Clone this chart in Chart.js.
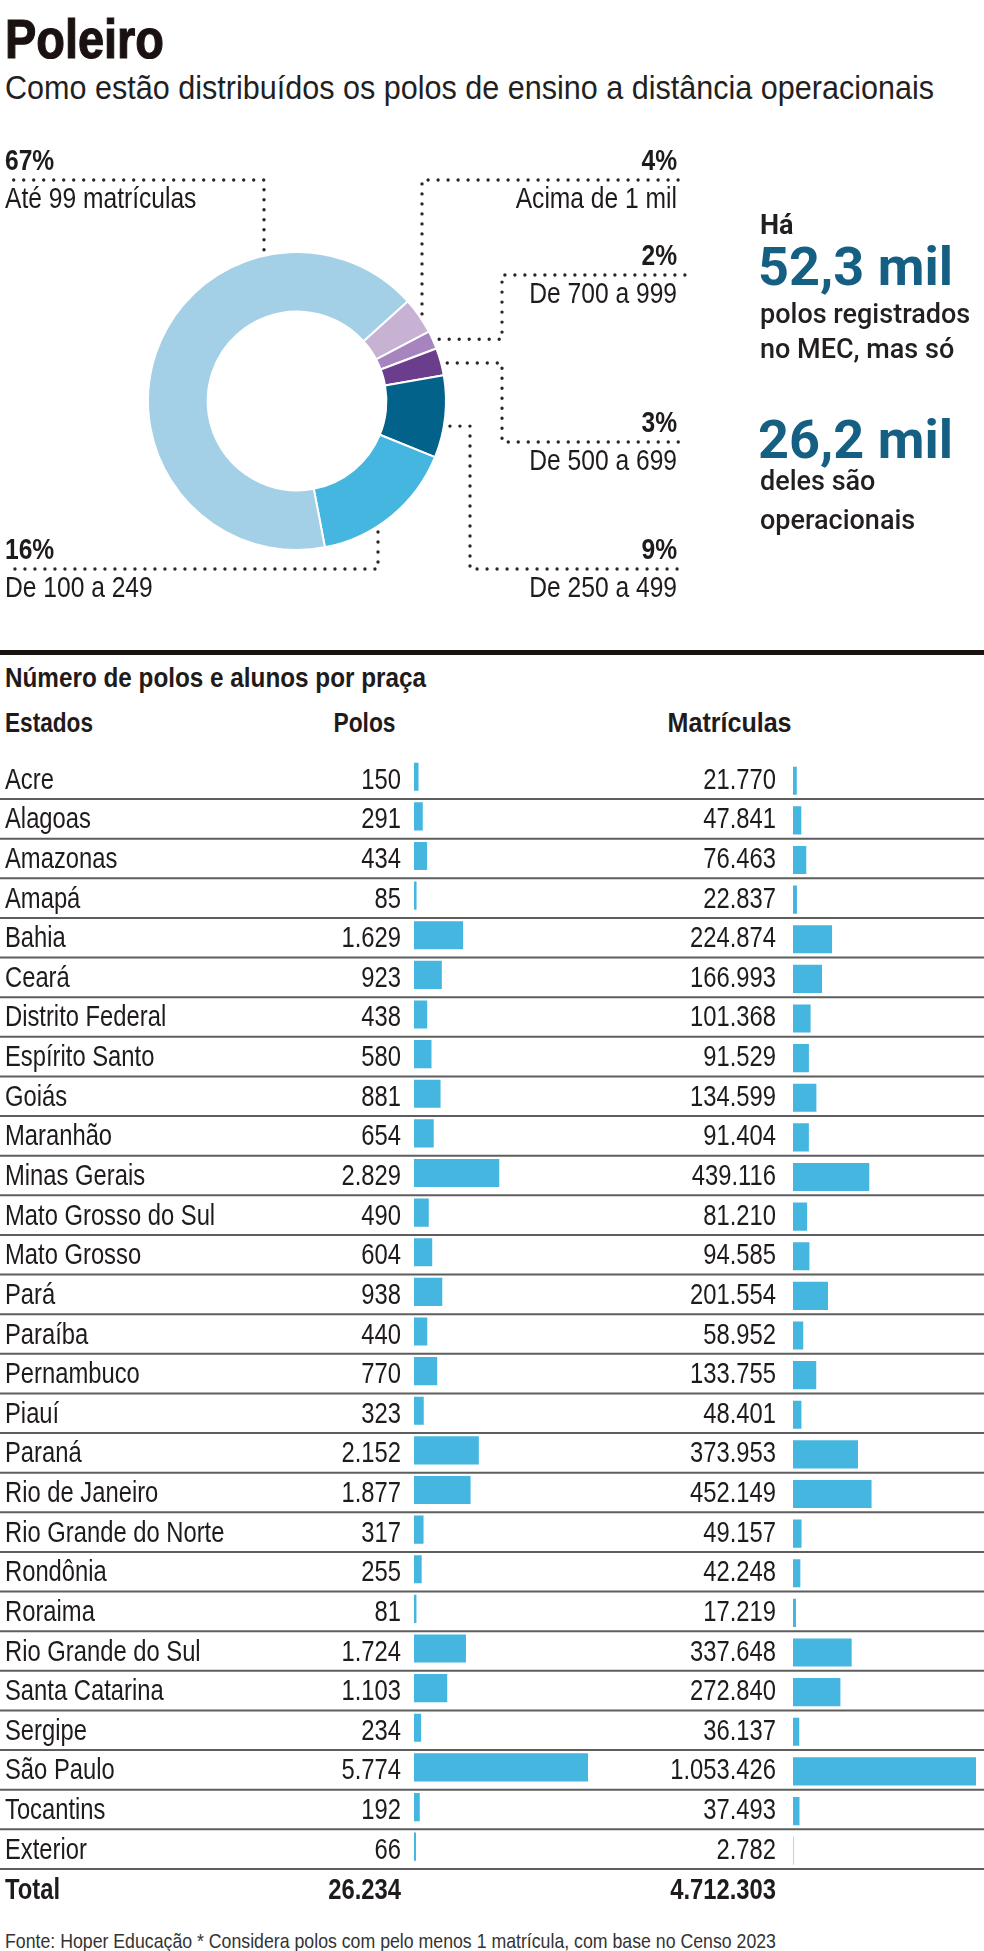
<!DOCTYPE html>
<html lang="pt-BR">
<head>
<meta charset="utf-8">
<title>Poleiro</title>
<script src="https://cdn.jsdelivr.net/npm/chart.js@4.4.1/dist/chart.umd.min.js"></script>
<style>
  html, body { margin: 0; padding: 0; background: #fff; }
  body {
    width: 984px; height: 1951px; position: relative; overflow: hidden;
    color: #1f1b1b;
    font-family: "Liberation Sans", Arial, sans-serif;
  }
  .t { position: absolute; white-space: nowrap; line-height: 1; transform-origin: 0 0; }
  .t.r { transform-origin: 100% 0; }
  .box { position: absolute; left: 0; width: 984px; }
  #title { left: 5px; top: 11px; font-size: 56px; font-weight: 700; color: #1a1111; -webkit-text-stroke: 1.2px #1a1111; }
  #subtitle { left: 5px; top: 71px; font-size: 33px; color: #231f1f; }
  .side { font-family: Roboto, "Liberation Sans", sans-serif; left: 760px; color: #231f20; font-weight: 500; font-size: 27px; }
  .big { font-family: Roboto, "Liberation Sans", sans-serif; left: 758px; color: #155f83; font-weight: 700; font-size: 54px; }
  #rule { position: absolute; left: 0; top: 650px; width: 984px; height: 5px; background: #1a1111; }
  #sec { left: 5px; top: 665px; font-size: 27px; font-weight: 700; }
  .head { top: 710px; font-size: 27px; font-weight: 700; }
  #foot { left: 5px; top: 1930px; font-size: 21px; color: #333; }
</style>
</head>
<body>

<div class="box" style="top:110px;height:515px"><canvas id="rosca"></canvas></div>
<div class="box" style="top:745px;height:1175px"><canvas id="tabela"></canvas></div>

<div class="t fit" id="title" data-w="159">Poleiro</div>
<div class="t fit" id="subtitle" data-w="929">Como estão distribuídos os polos de ensino a distância operacionais</div>

<div class="t side" style="top:212px;font-weight:700">Há</div>
<div class="t big" style="top:240px">52,3 mil</div>
<div class="t side" style="top:301px">polos registrados</div>
<div class="t side" style="top:336px">no MEC, mas só</div>
<div class="t big" style="top:413px">26,2 mil</div>
<div class="t side" style="top:468px">deles são</div>
<div class="t side" style="top:507px">operacionais</div>

<div id="rule"></div>
<div class="t fit" id="sec" data-w="421">Número de polos e alunos por praça</div>
<div class="t fit head" style="left:5px" data-w="88">Estados</div>
<div class="t fit r head" style="right:588px" data-w="62">Polos</div>
<div class="t fit r head" style="right:192px" data-w="124">Matrículas</div>
<div class="t fit" id="foot" data-w="771">Fonte: Hoper Educação * Considera polos com pelo menos 1 matrícula, com base no Censo 2023</div>

<script>
// DONUT - polos por faixa de matrículas (%)
const faixas = ["Acima de 1 mil", "De 700 a 999", "De 500 a 699", "De 250 a 499", "De 100 a 249", "Até 99 matrículas"];
const faixasPct = [4, 2, 3, 9, 16, 67];
const faixasCores = ['#c7b2d4', '#a684bf', '#6a3e8d', '#02628a', '#45b6e0', '#a3d0e6'];

// TABLE - polos e matrículas por estado
const estados = ["Acre", "Alagoas", "Amazonas", "Amapá", "Bahia", "Ceará", "Distrito Federal",
  "Espírito Santo", "Goiás", "Maranhão", "Minas Gerais", "Mato Grosso do Sul", "Mato Grosso",
  "Pará", "Paraíba", "Pernambuco", "Piauí", "Paraná", "Rio de Janeiro", "Rio Grande do Norte",
  "Rondônia", "Roraima", "Rio Grande do Sul", "Santa Catarina", "Sergipe", "São Paulo",
  "Tocantins", "Exterior"];
const polos = [150, 291, 434, 85, 1629, 923, 438, 580, 881, 654, 2829, 490, 604, 938, 440, 770,
  323, 2152, 1877, 317, 255, 81, 1724, 1103, 234, 5774, 192, 66];
const matriculas = [21770, 47841, 76463, 22837, 224874, 166993, 101368, 91529, 134599, 91404,
  439116, 81210, 94585, 201554, 58952, 133755, 48401, 373953, 452149, 49157, 42248, 17219,
  337648, 272840, 36137, 1053426, 37493, 2782];
const totalPolos = 26234;
const totalMatriculas = 4712303;

// squeeze html titles to the width they have in print (condensed face)
document.querySelectorAll('.fit').forEach(el => {
  const s = +el.dataset.w / el.getBoundingClientRect().width;
  el.style.transform = 'scaleX(' + s.toFixed(4) + ')';
});

const SANS = '"Liberation Sans", Arial, sans-serif';
const SX = 0.82;            // condensed look for canvas text
const INK = '#1f1b1b';
const BAR = '#45b6e0';

function fmt(n) {
  return String(n).replace(/\B(?=(\d{3})+(?!\d))/g, '.');
}

function narrow(ctx, txt, x, y, align) {
  ctx.save();
  ctx.translate(x, y);
  ctx.scale(SX, 1);
  ctx.textAlign = align;
  ctx.fillText(txt, 0, 0);
  ctx.restore();
}

// leader lines of the donut (page coords, canvas starts at y=110)
const TOP_Y = 110;
const leaders = [
  { i: 5, side: 'left',  lineY: 180, vx: 264, to: 'top' },
  { i: 0, side: 'right', lineY: 180, vx: 422, to: 'top' },
  { i: 1, side: 'right', lineY: 275, vx: 502, to: 'elbow', at: 0.6 },
  { i: 2, side: 'right', lineY: 442, vx: 502, to: 'elbow', at: 0.6 },
  { i: 3, side: 'right', lineY: 569, vx: 470, to: 'elbow', at: 0.6 },
  { i: 4, side: 'left',  lineY: 569, vx: 378, to: 'bottom' },
];

const leaderPlugin = {
  id: 'leaders',
  afterDraw(chart) {
    const ctx = chart.ctx;
    const arcs = chart.getDatasetMeta(0).data;
    ctx.save();
    leaders.forEach(l => {
      const a = arcs[l.i];
      const R = a.outerRadius;
      const ly = l.lineY - TOP_Y;
      const pts = [];
      if (l.to === 'elbow') {
        const ang = a.startAngle + (a.endAngle - a.startAngle) * l.at;
        const ax = a.x + Math.cos(ang) * (R + 6);
        const ay = a.y + Math.sin(ang) * (R + 6);
        pts.push([ax, ay], [l.vx, ay], [l.vx, ly]);
      } else {
        const dx = l.vx - a.x;
        const dy = Math.sqrt(Math.max(R * R - dx * dx, 0)) + 6;
        pts.push([l.vx, l.to === 'top' ? a.y - dy : a.y + dy], [l.vx, ly]);
      }
      pts.push([l.side === 'left' ? 6 : 685, ly]);
      ctx.beginPath();
      ctx.setLineDash([0, 10]);
      ctx.lineCap = 'round';
      ctx.lineWidth = 3.4;
      ctx.strokeStyle = '#2a2626';
      pts.forEach((p, k) => k ? ctx.lineTo(p[0], p[1]) : ctx.moveTo(p[0], p[1]));
      ctx.stroke();

      const tx = l.side === 'left' ? 5 : 677;
      const al = l.side === 'left' ? 'left' : 'right';
      ctx.textBaseline = 'alphabetic';
      ctx.fillStyle = INK;
      ctx.font = 'bold 30px ' + SANS;
      narrow(ctx, faixasPct[l.i] + '%', tx, ly - 10, al);
      ctx.font = '30px ' + SANS;
      narrow(ctx, faixas[l.i], tx, ly + 28, al);
    });
    ctx.restore();
  }
};

new Chart(document.getElementById('rosca'), {
  type: 'doughnut',
  data: {
    labels: faixas,
    datasets: [{
      data: faixasPct,
      backgroundColor: faixasCores,
      borderColor: '#ffffff',
      borderWidth: 2,
    }]
  },
  options: {
    responsive: true,
    maintainAspectRatio: false,
    animation: false,
    rotation: 48,
    cutout: '60%',
    layout: { padding: { left: 147, top: 141, right: 537, bottom: 74 } },
    plugins: { legend: { display: false }, tooltip: { enabled: false } }
  },
  plugins: [leaderPlugin]
});

// bar mapping: where 0 and the biggest value fall on the 984px row
const W = 984;
const polosZero = 414, polosEnd = 588;
const matrZero = 793, matrEnd = 976;
const kp = (polosEnd - polosZero) / Math.max(...polos);
const km = (matrEnd - matrZero) / Math.max(...matriculas);

const tablePlugin = {
  id: 'tabela',
  beforeDatasetDraw(chart, args) {
    chart.ctx.save();
    chart.ctx.translate(0, args.index === 0 ? -2.5 : 1.5);
  },
  afterDatasetDraw(chart) {
    chart.ctx.restore();
  },
  afterDatasetsDraw(chart) {
    const ctx = chart.ctx;
    const y = chart.scales.y;
    const step = y.getPixelForValue(1) - y.getPixelForValue(0);
    ctx.save();
    ctx.textBaseline = 'alphabetic';
    ctx.fillStyle = INK;
    ctx.strokeStyle = '#5e5e5e';
    ctx.lineWidth = 2;
    estados.forEach((nome, i) => {
      const cy = y.getPixelForValue(i);
      ctx.font = '29px ' + SANS;
      narrow(ctx, nome, 5, cy + 9.5, 'left');
      narrow(ctx, fmt(polos[i]), 401, cy + 9.5, 'right');
      narrow(ctx, fmt(matriculas[i]), 776, cy + 9.5, 'right');
      ctx.beginPath();
      ctx.moveTo(0, cy + step / 2);
      ctx.lineTo(W, cy + step / 2);
      ctx.stroke();
    });
    const ty = y.getPixelForValue(estados.length - 1) + step;
    ctx.font = 'bold 29px ' + SANS;
    narrow(ctx, 'Total', 5, ty + 10, 'left');
    narrow(ctx, fmt(totalPolos), 401, ty + 10, 'right');
    narrow(ctx, fmt(totalMatriculas), 776, ty + 10, 'right');
    ctx.restore();
  }
};

new Chart(document.getElementById('tabela'), {
  type: 'bar',
  data: {
    labels: estados,
    datasets: [
      { label: 'Polos', data: polos, xAxisID: 'xp', backgroundColor: BAR,
        grouped: false, barPercentage: 0.71, categoryPercentage: 1 },
      { label: 'Matrículas', data: matriculas, xAxisID: 'xm', backgroundColor: BAR,
        grouped: false, barPercentage: 0.71, categoryPercentage: 1 }
    ]
  },
  options: {
    indexAxis: 'y',
    responsive: true,
    maintainAspectRatio: false,
    animation: false,
    layout: { padding: { left: 0, right: 0, top: 14.4, bottom: 51 } },
    scales: {
      y: { display: false, offset: true },
      xp: { type: 'linear', display: false, min: -polosZero / kp, max: (W - polosZero) / kp },
      xm: { type: 'linear', display: false, min: -matrZero / km, max: (W - matrZero) / km }
    },
    plugins: { legend: { display: false }, tooltip: { enabled: false } }
  },
  plugins: [tablePlugin]
});
</script>
</body>
</html>
